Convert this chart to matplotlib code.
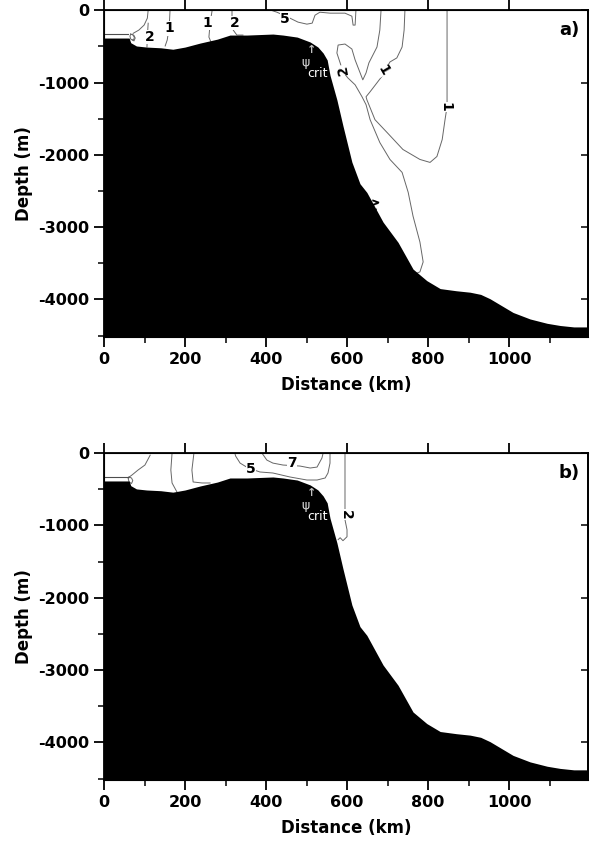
import numpy as np
import matplotlib
matplotlib.use('Agg')
import matplotlib.pyplot as plt
import matplotlib.ticker as ticker

plt.rcParams['font.family'] = ['DejaVu Sans']
plt.rcParams['font.weight'] = 'bold'
plt.rcParams['axes.unicode_minus'] = False

# bathymetry (same in both panels), km / m
bathy_x = [0, 62, 66, 80, 105, 140, 170, 200, 237, 280, 311, 353, 417, 442, 477, 509, 528, 541,
           551, 558, 575, 590, 612, 632, 649, 689, 726, 763, 797, 830, 870, 904, 930, 953, 980,
           1010, 1052, 1094, 1126, 1160, 1195]
bathy_y = [-385, -385, -450, -495, -510, -520, -540, -510, -455, -400, -344, -344, -330, -344,
           -372, -440, -509, -592, -688, -900, -1240, -1600, -2100, -2400, -2520, -2930, -3210,
           -3580, -3740, -3850, -3880, -3900, -3930, -3990, -4080, -4180, -4270, -4330, -4360,
           -4380, -4380]

# shelf top line
shelf_x = [0, 60]
shelf_y = [-330, -330]

# panel a) contour lines (km, m)
a_lines = [
    ([743, 741, 736, 723, 706, 699, 689, 674, 657, 647, 649, 669, 699, 738, 780, 805, 822, 835,
      842, 847, 847, 847],
     [0, -275, -509, -660, -716, -784, -894, -1004, -1128, -1197, -1238, -1514, -1692, -1926,
      -2064, -2105, -2023, -1789, -1514, -1335, -688, 0]),
    ([684, 681, 674, 664, 654, 647, 639, 620, 612, 595, 578, 575, 583, 590, 602, 620, 637, 647,
      657, 681, 706, 736, 751, 763, 780, 788, 780, 768],
     [0, -275, -509, -619, -729, -867, -963, -688, -537, -468, -482, -592, -729, -853, -936,
      -1032, -1197, -1307, -1514, -1830, -2064, -2243, -2518, -2848, -3206, -3481, -3619, -3646]),
    ([412, 427, 454, 479, 501, 514, 521, 533, 558, 595, 612, 615, 620, 622],
     [0, -28, -96, -165, -193, -179, -69, -28, -41, -41, -83, -206, -206, 0]),
    ([109, 107, 99, 86, 72], [0, -110, -206, -275, -320]),
    ([109, 107, 106], [-180, -370, -509]),
    ([163, 161, 156, 151], [0, -234, -413, -495]),
    ([267, 262, 259, 264], [0, -179, -372, -440]),
    ([316, 316, 319, 328, 343], [0, -179, -275, -344, -344]),
    ([66, 72, 75, 72, 66, 64, 66], [-330, -345, -380, -420, -400, -360, -330]),
    ([70, 74, 77, 74, 69], [-335, -350, -385, -425, -405]),
]
a_labels = [('2', 113, -370, 0), ('1', 160, -250, 0), ('1', 254, -180, 0), ('2', 323, -180, 0),
            ('5', 447, -125, 0), ('2', 590, -830, 100), ('1', 689, -830, -60),
            ('1', 842, -1335, -90), ('2', 664, -2650, 160)]

# panel b) contour lines
b_lines = [
    ([323, 325, 336, 356, 385, 417, 459, 501, 526, 546, 553, 558, 558],
     [0, -41, -138, -206, -261, -275, -330, -372, -372, -344, -275, -138, 0]),
    ([390, 402, 417, 442, 484, 509, 526, 538, 541],
     [0, -96, -138, -165, -179, -206, -193, -69, 0]),
    ([595, 595, 600, 600, 590, 583, 578],
     [0, -922, -1060, -1156, -1211, -1170, -1197]),
    ([114, 101, 84, 69, 59], [-28, -165, -234, -303, -344]),
    ([168, 165, 168, 180], [0, -234, -413, -537]),
    ([222, 217, 220, 242, 262], [0, -234, -399, -413, -413]),
    ([62, 68, 71, 68, 62, 60, 62], [-330, -345, -380, -420, -400, -360, -330]),
]
b_labels = [('5', 363, -215, 0), ('7', 464, -140, 0), ('2', 598, -850, -90)]

panel_tags = ['a)', 'b)']


def draw_panel(ax, lines, labels, tag):
    for lx, ly in lines:
        ax.plot(lx, ly, color='0.4', lw=0.7, zorder=2)
    ax.plot(shelf_x, shelf_y, color='0.3', lw=0.8, zorder=2)
    for txt, x, y, rot in labels:
        ax.text(x, y, txt, fontsize=10, fontweight='bold', rotation=rot, ha='center', va='center',
                zorder=2.5, bbox=dict(facecolor='white', edgecolor='none', pad=0.2))
    ax.fill_between(bathy_x, bathy_y, -5000, color='black', lw=0, zorder=3)
    ax.text(512, -550, '\u2191', color='0.75', fontsize=8, ha='center', va='center', zorder=4)
    ax.text(498, -720, '\u03c8', color='0.85', fontsize=9, fontweight='normal', ha='center',
            va='center', zorder=4)
    ax.text(528, -880, 'crit', color='white', fontsize=9, fontweight='normal', ha='center',
            va='center', zorder=4)
    ax.text(1175, -280, tag, fontsize=13, fontweight='bold', ha='right', va='center', zorder=4)

    ax.set_xlim(0, 1195)
    ax.set_ylim(-4520, 0)
    ax.xaxis.set_major_locator(ticker.MultipleLocator(200))
    ax.xaxis.set_minor_locator(ticker.MultipleLocator(100))
    ax.yaxis.set_major_locator(ticker.MultipleLocator(1000))
    ax.yaxis.set_minor_locator(ticker.MultipleLocator(500))
    ax.tick_params(which='major', direction='out', length=7, width=1.3, labelsize=11.5,
                   top=True, right=False)
    ax.tick_params(which='minor', direction='out', length=4, width=1.1, top=False, right=False)
    for lab in ax.get_xticklabels() + ax.get_yticklabels():
        lab.set_fontweight('bold')
    for s in ax.spines.values():
        s.set_linewidth(1.3)
    ax.set_xlabel('Distance (km)', fontsize=12, fontweight='bold', labelpad=7)
    ax.set_ylabel('Depth (m)', fontsize=12, fontweight='bold', labelpad=4)
    # inward ticks on the right spine
    tw = ax.twinx()
    tw.set_ylim(ax.get_ylim())
    tw.yaxis.set_major_locator(ticker.MultipleLocator(1000))
    tw.yaxis.set_minor_locator(ticker.NullLocator())
    tw.tick_params(direction='in', length=5, width=1.1, labelright=False)
    tw.spines['right'].set_linewidth(1.3)


fig = plt.figure(figsize=(5.9, 8.49), dpi=100)
ax1 = fig.add_axes([0.1763, 0.603, 0.8203, 0.385])
ax2 = fig.add_axes([0.1763, 0.0813, 0.8203, 0.385])
draw_panel(ax1, a_lines, a_labels, panel_tags[0])
draw_panel(ax2, b_lines, b_labels, panel_tags[1])

fig.savefig('out.png', dpi=100)
